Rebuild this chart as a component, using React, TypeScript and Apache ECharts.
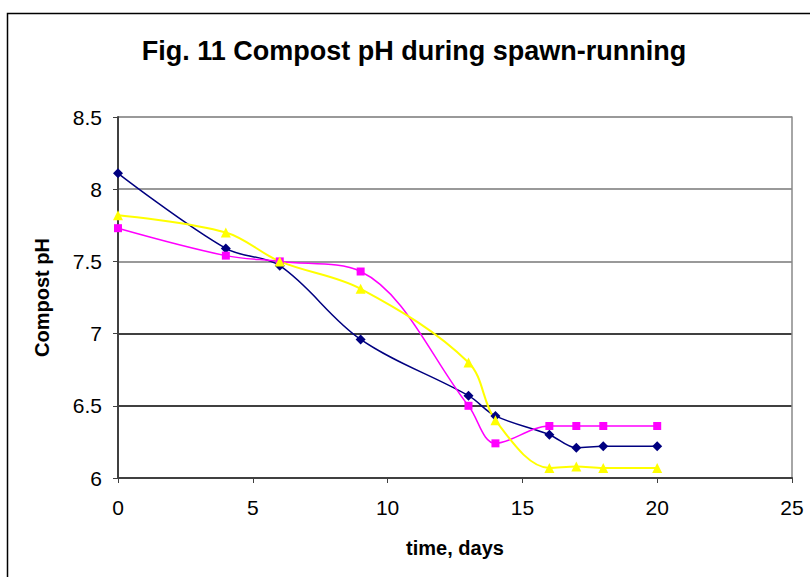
import React, { useEffect, useRef } from "react";
import * as echarts from "echarts";

const days = [0, 4, 6, 9, 13, 14, 16, 17, 18, 20];
const navySeries = [8.11, 7.59, 7.47, 6.96, 6.57, 6.43, 6.30, 6.21, 6.22, 6.22];
const magentaSeries = [7.73, 7.54, 7.50, 7.43, 6.50, 6.24, 6.36, 6.36, 6.36, 6.36];
const yellowSeries = [7.82, 7.70, 7.50, 7.31, 6.80, 6.40, 6.07, 6.08, 6.07, 6.07];

const titleText = "Fig. 11 Compost pH during spawn-running";
const xName = "time, days";
const yName = "Compost pH";

const FONT = "'Liberation Sans', Arial, sans-serif";

export default function App() {
  const ref = useRef<HTMLDivElement>(null);
  useEffect(() => {
    if (!ref.current) return;
    const chart = echarts.init(ref.current, null, { renderer: "svg" });
    const pair = (vals: number[]) => days.map((d, i) => [d, vals[i]]);
    chart.setOption({
      animation: false,
      backgroundColor: "#fff",
      textStyle: { fontFamily: FONT },
      title: {
        text: titleText,
        left: 409,
        textAlign: "center",
        top: 32,
        textStyle: { fontFamily: FONT, fontSize: 27, fontWeight: "bold", color: "#000" },
      },
      graphic: [
        {
          type: "rect",
          left: 5,
          top: 11,
          shape: { width: 900, height: 700 },
          style: { fill: "none", stroke: "#000", lineWidth: 1.5 },
          silent: true,
        },
      ],
      grid: { left: 118, top: 117, right: 18, bottom: 99, containLabel: false },
      xAxis: {
        type: "value",
        min: 0,
        max: 25,
        interval: 5,
        name: xName,
        nameLocation: "middle",
        nameGap: 60,
        nameTextStyle: { fontFamily: FONT, fontSize: 20, fontWeight: "bold", color: "#000" },
        axisLine: { show: true, lineStyle: { color: "#404040", width: 2 } },
        axisTick: { show: true, inside: false, length: 5, lineStyle: { color: "#404040", width: 1 } },
        axisLabel: { fontFamily: FONT, fontSize: 21, color: "#000", margin: 19 },
        splitLine: { show: false },
      },
      yAxis: [
        {
          type: "value",
          min: 6,
          max: 8.5,
          interval: 0.5,
          name: yName,
          nameLocation: "middle",
          nameGap: 66,
          nameRotate: 90,
          nameTextStyle: { fontFamily: FONT, fontSize: 20, fontWeight: "bold", color: "#000" },
          axisLine: { show: true, lineStyle: { color: "#404040", width: 2 } },
          axisTick: { show: true, inside: false, length: 5, lineStyle: { color: "#404040", width: 1 } },
          axisLabel: { fontFamily: FONT, fontSize: 21, color: "#000", margin: 16 },
          splitLine: {
            show: true,
            lineStyle: {
              color: ["#000", "#000", "#000", "#777", "#777", "#777"],
              width: 1.5,
            },
          },
        },
        {
          type: "value",
          position: "right",
          min: 6,
          max: 8.5,
          interval: 0.5,
          axisLine: { show: true, lineStyle: { color: "#888", width: 1.5 } },
          axisTick: { show: false },
          axisLabel: { show: false },
          splitLine: { show: false },
        },
      ],
      series: [
        {
          type: "line",
          data: pair(navySeries),
          smooth: 0.35,
          symbol: "diamond",
          symbolSize: 10,
          itemStyle: { color: "#000080" },
          lineStyle: { color: "#000080", width: 1.5 },
        },
        {
          type: "line",
          data: pair(magentaSeries),
          smooth: 0.35,
          symbol: "rect",
          symbolSize: 8,
          itemStyle: { color: "#FF00FF" },
          lineStyle: { color: "#FF00FF", width: 1.5 },
        },
        {
          type: "line",
          data: pair(yellowSeries),
          smooth: 0.35,
          symbol: "triangle",
          symbolSize: 10,
          itemStyle: { color: "#FFFF00" },
          lineStyle: { color: "#FFFF00", width: 2 },
        },
      ],
    });
    return () => chart.dispose();
  }, []);
  return (
    <div
      ref={ref}
      style={{ position: "fixed", left: 0, top: 0, width: 810, height: 577 }}
    />
  );
}
